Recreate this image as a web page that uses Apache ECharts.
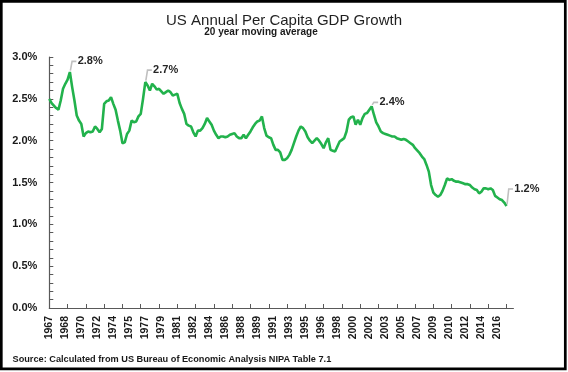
<!DOCTYPE html>
<html><head><meta charset="utf-8">
<script src="https://cdn.jsdelivr.net/npm/echarts@6/dist/echarts.min.js"></script>
<style>html,body{margin:0;padding:0;background:#fff}#c{width:568px;height:372px}</style>
</head><body><div id="c"></div>
<script>
// ---- data ----
const titleText = 'US Annual Per Capita GDP Growth';
const subtitleText = '20 year moving average';
const sourceText = 'Source: Calculated from US Bureau of Economic Analysis NIPA Table 7.1';
const startYear = 1967;
const endYear = 2017;           // axis runs 1967Q1 .. 2017Q4
// 20-year moving average of per-capita GDP growth (%), quarterly from 1967Q1
const growth = [
  2.50, 2.45, 2.42, 2.39, 2.37, 2.48, 2.62, 2.68, 2.73, 2.82,
  2.64, 2.48, 2.30, 2.24, 2.20, 2.05, 2.09, 2.11, 2.10, 2.11,
  2.17, 2.14, 2.10, 2.14, 2.44, 2.47, 2.48, 2.52, 2.44, 2.37,
  2.24, 2.12, 1.97, 1.98, 2.08, 2.12, 2.24, 2.22, 2.23, 2.29,
  2.32, 2.50, 2.70, 2.66, 2.60, 2.68, 2.65, 2.61, 2.62, 2.59,
  2.56, 2.58, 2.60, 2.58, 2.54, 2.55, 2.56, 2.45, 2.38, 2.32,
  2.20, 2.18, 2.17, 2.10, 2.05, 2.12, 2.12, 2.15, 2.20, 2.27,
  2.23, 2.19, 2.12, 2.07, 2.03, 2.05, 2.05, 2.04, 2.05, 2.07,
  2.08, 2.09, 2.05, 2.03, 2.03, 2.07, 2.03, 2.07, 2.11, 2.16,
  2.20, 2.23, 2.24, 2.29, 2.15, 2.06, 2.04, 2.03, 1.95, 1.89,
  1.89, 1.86, 1.77, 1.77, 1.79, 1.83, 1.89, 1.97, 2.05, 2.12,
  2.17, 2.15, 2.11, 2.04, 2.00, 1.97, 2.00, 2.03, 2.00, 1.96,
  1.91, 1.98, 2.03, 1.89, 1.88, 1.87, 1.93, 1.99, 2.01, 2.03,
  2.11, 2.25, 2.28, 2.29, 2.19, 2.25, 2.19, 2.27, 2.32, 2.33,
  2.37, 2.41, 2.31, 2.22, 2.17, 2.11, 2.09, 2.08, 2.07, 2.06,
  2.05, 2.05, 2.03, 2.02, 2.01, 2.02, 2.01, 1.99, 1.97, 1.95,
  1.91, 1.88, 1.85, 1.81, 1.78, 1.71, 1.63, 1.47, 1.38, 1.35,
  1.33, 1.35, 1.40, 1.47, 1.55, 1.53, 1.54, 1.52, 1.51, 1.51,
  1.50, 1.49, 1.48, 1.48, 1.47, 1.44, 1.42, 1.41, 1.37, 1.39,
  1.43, 1.43, 1.42, 1.43, 1.41, 1.34, 1.32, 1.30, 1.29, 1.26,
  1.22
];
const labelledIdx = [9, 42, 141, 200];
const yMin = 0, yMax = 3, yStep = 0.5;

// ---- build ----
const categories = [];
for (let y = startYear; y <= endYear; y++) for (let q = 1; q <= 4; q++) categories.push(y + 'Q' + q);
const lastDataIdx = growth.length - 1;

// vertical rise (px) of each callout above its point
const calloutRise = { 9: 10.7, 42: 12, 141: 4, 200: 17 };

const font = "'Liberation Sans', Arial, sans-serif";
const axisColor = '#595959';
const chart = echarts.init(document.getElementById('c'), null, { renderer: 'canvas' });
chart.setOption({
  animation: false,
  backgroundColor: '#ffffff',
  grid: { left: 49.3, right: 54.6, top: 57, bottom: 64, containLabel: false },
  xAxis: {
    type: 'category', data: categories, boundaryGap: false,
    axisLine: { lineStyle: { color: axisColor, width: 1.2 } },
    axisTick: { show: true, inside: true, interval: (i) => i % 8 === 0 && i <= lastDataIdx, length: 4, lineStyle: { color: axisColor } },
    axisLabel: { interval: (i) => i % 7 === 0 && i <= lastDataIdx, rotate: 90, margin: 8, fontFamily: font, fontWeight: 'bold', fontSize: 10.5, color: '#1a1a1a',
      formatter: v => v.slice(0, 4) },
    splitLine: { show: false }
  },
  yAxis: {
    type: 'value', min: yMin, max: yMax, interval: yStep,
    axisLine: { show: true, lineStyle: { color: axisColor, width: 1.2 } },
    axisTick: { show: true, inside: true, length: 4, lineStyle: { color: axisColor } },
    minorTick: { show: true, splitNumber: 5, length: 4, lineStyle: { color: axisColor } },
    axisLabel: { margin: 12, fontFamily: font, fontWeight: 'bold', fontSize: 11, color: '#1a1a1a',
      formatter: v => v.toFixed(1) + '%' },
    splitLine: { show: false }
  },
  series: [
    {
      type: 'line', data: growth, showSymbol: false, symbol: 'none', smooth: false,
      lineStyle: { color: '#22b24c', width: 2.6 }, z: 3
    },
    {
      type: 'custom', z: 4,
      data: labelledIdx.map(i => [i, growth[i]]),
      renderItem: (params, api) => {
        const idx = api.value(0), val = api.value(1);
        const p = api.coord([idx, val]);
        const rise = calloutRise[idx];
        const ty = p[1] - rise;
        return {
          type: 'group',
          children: [
            { type: 'polyline', shape: { points: [[p[0] + 0.5, p[1] - 1.5], [p[0] + 2.2, ty], [p[0] + 6.5, ty]] },
              style: { stroke: '#c0c0c0', lineWidth: 1.6, fill: null } },
            { type: 'text', x: p[0] + 7.8, y: ty,
              style: { text: val.toFixed(1) + '%', textAlign: 'left', textVerticalAlign: 'middle',
                font: 'bold 11px ' + font, fill: '#262626' } }
          ]
        };
      }
    }
  ],
  graphic: [
    { type: 'rect', shape: { x: 1.3, y: 1.3, width: 564, height: 367.5 }, style: { fill: 'none', stroke: '#000', lineWidth: 2.7 }, z: 10 },
    { type: 'text', x: 284, y: 20.7, style: { text: titleText, textAlign: 'center', textVerticalAlign: 'middle', font: '15px ' + font, fill: '#1f1f1f' } },
    { type: 'text', x: 261, y: 32.5, style: { text: subtitleText, textAlign: 'center', textVerticalAlign: 'middle', font: 'bold 10px ' + font, fill: '#1a1a1a' } },
    { type: 'text', x: 12.5, y: 359, style: { text: sourceText, textAlign: 'left', textVerticalAlign: 'middle', font: 'bold 9.2px ' + font, fill: '#1a1a1a' } }
  ]
});
</script>
</body></html>
